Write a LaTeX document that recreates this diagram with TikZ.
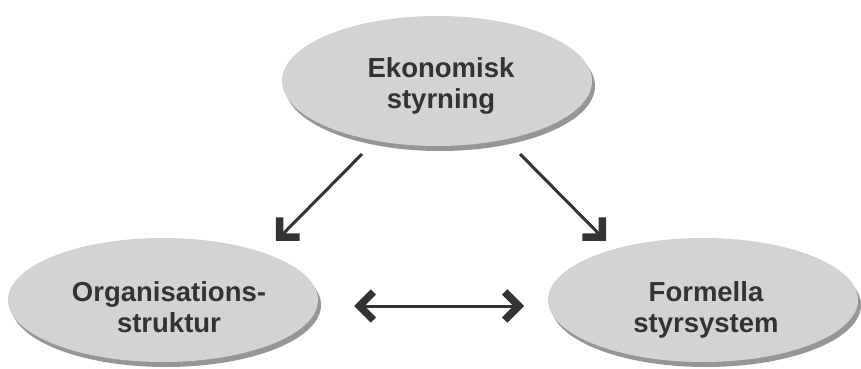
\documentclass[tikz,border=0pt]{standalone}
\usepackage{fontspec}
\setmainfont{Liberation Sans}
\usetikzlibrary{shapes.geometric, arrows.meta, shadows}
\definecolor{ellfill}{RGB}{211,211,211}
\definecolor{ellshadow}{RGB}{150,150,150}
\definecolor{ink}{RGB}{51,51,51}
\tikzset{barbhead/.tip={Straight Barb[length=14pt,width=28pt,line width'=7.5pt 0,sharp]}}
\begin{document}
\begin{tikzpicture}[x=1pt,y=-1pt,
  ell/.style={ellipse, fill=ellfill, draw=none, minimum width=310pt, inner sep=0pt,
    general shadow={fill=ellshadow, shadow xshift=3pt, shadow yshift=-5pt}},
  lbl/.style={font=\bfseries\fontsize{27.5}{31.5}\selectfont, text=ink, align=center, inner sep=0pt},
  arr/.style={draw=ink, line width=3pt, -barbhead},
  dblarr/.style={draw=ink, line width=3pt, barbhead-barbhead}
]
\useasboundingbox (0,0) rectangle (861,369);
\fill[white] (0,0) rectangle (861,369);
% ellipses
\node[ell, minimum height=130pt] (top) at (437,81) {};
\node[ell, minimum height=124pt] (left) at (163,300) {};
\node[ell, minimum height=124pt] (right) at (703,300) {};
% labels
\node[lbl] (toptxt) at (441,86) {Ekonomisk\\styrning};
\node[lbl] (lefttxt) at (169,307) {Organisations-\\struktur};
\node[lbl] (righttxt) at (706,310) {Formella\\styrsystem};
% connector ends
\coordinate (a1s) at (362,154);
\coordinate (a1e) at (276,241);
\coordinate (a2s) at (520,154);
\coordinate (a2e) at (606,241);
\coordinate (a3s) at (354,306);
\coordinate (a3e) at (524,306);
\draw[arr] (a1s) -- (a1e);
\draw[arr] (a2s) -- (a2e);
\draw[dblarr] (a3s) -- (a3e);
\end{tikzpicture}
\end{document}
